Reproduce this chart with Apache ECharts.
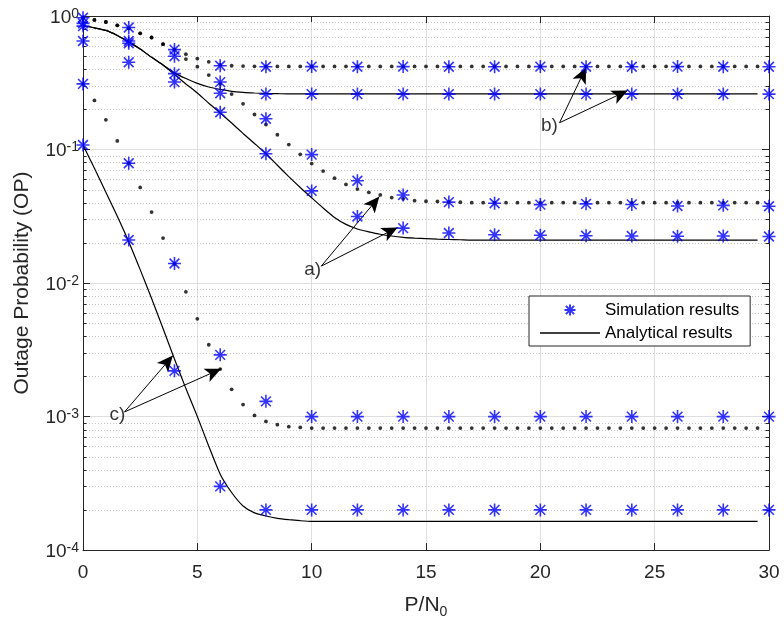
<!DOCTYPE html>
<html><head><meta charset="utf-8">
<script src="https://cdn.jsdelivr.net/npm/echarts@6/dist/echarts.min.js"></script>
<style>html,body{margin:0;padding:0;background:#fff}#c{width:784px;height:624px}</style>
</head><body><div id="c"></div>
<script>
// ---------- data ----------
const X_ANALYTIC = [0,0.5,1,1.5,2,2.5,3,3.5,4,4.5,5,5.5,6,6.5,7,7.5,8,8.5,9,9.5,
  10,10.5,11,11.5,12,12.5,13,13.5,14,14.5,15,15.5,16,16.5,17,17.5,18,18.5,19,19.5,
  20,20.5,21,21.5,22,22.5,23,23.5,24,24.5,25,25.5,26,26.5,27,27.5,28,28.5,29,29.5];

// b) dotted analytical
const bDot = [0.97,0.934,0.902,0.851,0.809,0.742,0.69,0.615,0.56,0.518,0.48,0.454,0.43,0.424,0.422,0.42,0.419,
  0.419,0.419,0.419,0.419,0.419,0.419,0.419,0.419,0.419,0.419,0.419,0.419,0.419,0.419,0.419,0.419,0.419,
  0.419,0.419,0.419,0.419,0.419,0.419,0.419,0.419,0.419,0.419,0.419,0.419,0.419,0.419,0.419,0.419,0.419,
  0.419,0.419,0.419,0.419,0.419,0.419,0.419,0.419,0.419];
// a) dotted analytical
const aDot = [0.97,0.934,0.902,0.851,0.809,0.742,0.69,0.615,0.56,0.476,0.417,0.361,0.31,0.26,0.22,0.183,0.154,
  0.129,0.109,0.092,0.0785,0.069,0.061,0.0548,0.0506,0.0478,0.0457,0.0437,0.0427,0.0414,0.041,0.0408,0.0405,0.0403,
  0.04,0.04,0.04,0.04,0.04,0.04,0.04,0.04,0.04,0.04,0.04,0.04,0.04,0.04,0.04,0.04,0.04,0.04,0.04,0.04,0.04,0.04,
  0.04,0.04,0.04,0.04];
// b) solid analytical
const bSol = [0.845,0.815,0.78,0.715,0.64,0.565,0.49,0.43,0.375,0.34,0.313,0.294,0.282,0.273,0.268,0.265,0.263,0.262,
  0.261,0.261,0.261,0.261,0.261,0.261,0.261,0.261,0.261,0.261,0.261,0.261,0.261,0.261,0.261,0.261,0.261,0.261,
  0.261,0.261,0.261,0.261,0.261,0.261,0.261,0.261,0.261,0.261,0.261,0.261,0.261,0.261,0.261,0.261,0.261,0.261,
  0.261,0.261,0.261,0.261,0.261,0.261];
// a) solid analytical
const aSol = [0.845,0.815,0.78,0.715,0.64,0.565,0.49,0.43,0.365,0.31,0.265,0.222,0.188,0.158,0.132,0.111,0.093,
  0.0762,0.0627,0.052,0.0435,0.0365,0.031,0.0275,0.0254,0.0242,0.0232,0.0225,0.022,0.0217,0.0215,0.0213,0.0212,0.0211,
  0.021,0.021,0.021,0.021,0.021,0.021,0.021,0.021,0.021,0.021,0.021,0.021,0.021,0.021,0.021,0.021,0.021,0.021,
  0.021,0.021,0.021,0.021,0.021,0.021,0.021,0.021];
// c) dotted analytical
const cDot = [0.31,0.233,0.167,0.116,0.079,0.052,0.034,0.0217,0.0139,0.0086,0.0054,0.00345,0.00227,0.0016,0.00123,
  0.00102,0.00092,0.00087,0.00084,0.00083,
  0.00082,0.00082,0.00082,0.00082,0.00082,0.00082,0.00082,0.00082,0.00082,0.00082,0.00082,0.00082,0.00082,0.00082,
  0.00082,0.00082,0.00082,0.00082,0.00082,0.00082,0.00082,0.00082,0.00082,0.00082,0.00082,0.00082,0.00082,0.00082,
  0.00082,0.00082,0.00082,0.00082,0.00082,0.00082,0.00082,0.00082,0.00082,0.00082,0.00082,0.00082];
// c) solid analytical
const cSol = [0.108,0.0724,0.0479,0.0316,0.0204,0.0126,0.00767,0.00457,0.0027,0.00162,0.001,0.0006,0.00037,0.00027,
  0.000214,0.00019,0.00018,0.000173,0.000169,0.000166,
  0.000164,0.000164,0.000164,0.000164,0.000164,0.000164,0.000164,0.000164,0.000164,0.000164,0.000164,0.000164,
  0.000164,0.000164,0.000164,0.000164,0.000164,0.000164,0.000164,0.000164,0.000164,0.000164,0.000164,0.000164,
  0.000164,0.000164,0.000164,0.000164,0.000164,0.000164,0.000164,0.000164,0.000164,0.000164,0.000164,0.000164,
  0.000164,0.000164,0.000164,0.000164];

// simulation points
const X_SIM = [0,2,4,6,8,10,12,14,16,18,20,22,24,26,28,30];
const simBDot = [0.97,0.82,0.56,0.424,0.417,0.418,0.417,0.418,0.417,0.417,0.418,0.417,0.417,0.418,0.417,0.417];
const simBSol = [0.88,0.625,0.37,0.264,0.26,0.26,0.26,0.26,0.26,0.26,0.26,0.26,0.26,0.26,0.26,0.26];
const simADot = [0.84,0.65,0.50,0.32,0.17,0.0916,0.0584,0.0457,0.0404,0.0396,0.0387,0.0392,0.0388,0.0378,0.0382,0.0376];
const simASol = [0.65,0.45,0.32,0.19,0.093,0.049,0.0315,0.0258,0.0237,0.023,0.0228,0.0226,0.0225,0.0224,0.0225,0.0223];
const simCDot = [0.31,0.079,0.014,0.0029,0.0013,0.001,0.001,0.001,0.001,0.001,0.001,0.001,0.001,0.001,0.001,0.001];
const simCSol = [0.108,0.021,0.0022,0.0003,0.0002,0.0002,0.0002,0.0002,0.0002,0.0002,0.0002,0.0002,0.0002,0.0002,0.0002,0.0002];

// axis ticks
const X_TICKS = [0,5,10,15,20,25,30];
const Y_MINOR = [2e-4,3e-4,4e-4,5e-4,6e-4,7e-4,8e-4,9e-4,
  2e-3,3e-3,4e-3,5e-3,6e-3,7e-3,8e-3,9e-3,
  0.02,0.03,0.04,0.05,0.06,0.07,0.08,0.09,
  0.2,0.3,0.4,0.5,0.6,0.7,0.8,0.9];

// annotations: [x1, y1, x2, y2]
const ARROWS = [
  [10.42,0.01339,12.96,0.0444],[10.42,0.01339,13.76,0.0261],
  [20.84,0.1587,22.0,0.412],[20.84,0.1587,23.82,0.2765],
  [1.815,0.001083,3.93,0.002862],[1.815,0.001083,6.04,0.002279]];
const LABELS = [['a)',10.04,0.0125],['b)',20.4,0.1498],['c)',1.51,0.001023]];

// ---------- chart ----------
const FONT = "'Liberation Sans', Arial, Helvetica, sans-serif";
const AX = '#262626';
const STAR = 'path://M0,-10L0,10M-10,0L10,0M-7.5,-7.5L7.5,7.5M-7.5,7.5L7.5,-7.5';
const LINE_ICON = 'path://M0,0L60,0L60,1.3L0,1.3Z';
const pairs = (xs, ys) => xs.map((x, i) => [x, ys[i]]);

const chart = echarts.init(document.getElementById('c'), null, {renderer: 'canvas'});

function analytic(name, ys) {
  return {type:'line', name:'Analytical results', data: pairs(X_ANALYTIC, ys), symbol:'none',
    smooth: 0.2, lineStyle:{color:'#000', width:1.2}, itemStyle:{color:'#000'}, z:3, silent:true};
}
function dotted(name, ys) {
  return {type:'scatter', name:name, data: pairs(X_ANALYTIC, ys), symbol:'circle', symbolSize:3.8,
    itemStyle:{color:'#000'}, z:4, silent:true};
}
function sim(ys) {
  return {type:'scatter', name:'Simulation results', data: pairs(X_SIM, ys), symbol: STAR, symbolSize:13,
    symbolKeepAspect:true, itemStyle:{color:'rgba(0,0,0,0)', borderColor:'#0000ff', borderWidth:1.6}, z:5, silent:true};
}

const option = {
  animation:false,
  backgroundColor:'#fff',
  grid:{left:83, top:13, width:686, height:538, containLabel:false},
  legend:{
    data:[{name:'Simulation results', icon: STAR},
          {name:'Analytical results', icon: LINE_ICON, itemStyle:{color:'#000', borderWidth:0}}],
    orient:'vertical', left:529, top:296, itemWidth:60, itemHeight:11, itemGap:3,
    padding:[4,11,3,11], selectedMode:false,
    textStyle:{fontSize:17, color:'#000', fontFamily:FONT, lineHeight:20},
    borderColor:AX, borderWidth:1, backgroundColor:'#fff'
  },
  xAxis:[
    {type:'value', min:0, max:30, interval:5, position:'bottom',
     axisLine:{show:true, onZero:false, lineStyle:{color:AX, width:1}},
     axisTick:{show:true, inside:true, length:7, lineStyle:{color:AX}},
     axisLabel:{color:AX, fontSize:19, fontFamily:FONT, margin:13},
     splitLine:{show:true, lineStyle:{color:'#dfdfdf', width:1}},
     name:'{a|P/N}{s|0}', nameLocation:'middle', nameGap:34,
     nameTextStyle:{color:AX, fontFamily:FONT, rich:{
       a:{fontSize:21, lineHeight:24, verticalAlign:'top', fontFamily:FONT, color:AX},
       s:{fontSize:14, lineHeight:14, padding:[18,0,0,0], verticalAlign:'bottom', fontFamily:FONT, color:AX}}}},
    {type:'value', min:0, max:30, interval:5, position:'top',
     axisLine:{show:true, onZero:false, lineStyle:{color:AX, width:1}},
     axisTick:{show:true, inside:true, length:7, lineStyle:{color:AX}},
     axisLabel:{show:false}, splitLine:{show:false}}
  ],
  yAxis:[
    {type:'log', logBase:10, min:1e-4, max:1, position:'left',
     axisLine:{show:true, onZero:false, lineStyle:{color:AX, width:1}},
     axisTick:{show:true, inside:true, length:7, lineStyle:{color:AX}},
     axisLabel:{margin:4, color:AX, fontFamily:FONT,
       formatter: v => '{b|10}{s|' + Math.round(Math.log10(v)) + '}',
       rich:{
         b:{fontSize:19, lineHeight:22, padding:[8,0,0,0], verticalAlign:'bottom', fontFamily:FONT, color:AX},
         s:{fontSize:14, lineHeight:16, padding:[2,0,0,0], verticalAlign:'top', fontFamily:FONT, color:AX}}},
     splitLine:{show:true, lineStyle:{color:'#dfdfdf', width:1}},
     minorTick:{show:false}, minorSplitLine:{show:false},
     name:'Outage Probability (OP)', nameLocation:'middle', nameGap:50,
     nameTextStyle:{fontSize:21, color:AX, fontFamily:FONT}},
    {type:'log', logBase:10, min:1e-4, max:1, position:'right',
     axisLine:{show:true, onZero:false, lineStyle:{color:AX, width:1}},
     axisTick:{show:true, inside:true, length:7, lineStyle:{color:AX}},
     axisLabel:{show:false}, splitLine:{show:false}}
  ],
  series:[
    {type:'custom', name:'minor', silent:true, z:1, clip:false,
     data: Y_MINOR.map(v => [0, v]), encode:{x:0, y:1},
     renderItem:(params, api) => {
       const v = api.value(1);
       const a = api.coord([0, v]);
       const b = api.coord([30, v]);
       const y = Math.round(a[1]) + 0.5;
       return {type:'group', children:[
         {type:'line', shape:{x1:a[0], y1:y, x2:b[0], y2:y}, style:{stroke:'#c4c4c4', lineWidth:1, lineDash:[1,2]}},
         {type:'line', shape:{x1:a[0], y1:y, x2:a[0]+3.5, y2:y}, style:{stroke:AX, lineWidth:1}},
         {type:'line', shape:{x1:b[0]-3.5, y1:y, x2:b[0], y2:y}, style:{stroke:AX, lineWidth:1}}
       ]};
     }},
    analytic('bSol', bSol), analytic('aSol', aSol), analytic('cSol', cSol),
    dotted('bDot', bDot), dotted('aDot', aDot), dotted('cDot', cDot),
    sim(simBDot), sim(simBSol), sim(simADot), sim(simASol), sim(simCDot), sim(simCSol),
    {type:'line', name:'arrows', data:[], silent:true, z:6,
     markLine:{silent:true, symbol:['none','arrow'], symbolSize:[11,16],
       lineStyle:{color:'#000', width:1, type:'solid'}, itemStyle:{color:'#000'},
       label:{show:false}, emphasis:{disabled:true},
       data: ARROWS.map(a => [{coord:[a[0], a[1]]}, {coord:[a[2], a[3]]}])}},
    {type:'scatter', name:'labels', silent:true, z:7, symbolSize:1,
     itemStyle:{color:'rgba(0,0,0,0)'},
     data: LABELS.map(l => [l[1], l[2], l[0]]),
     label:{show:true, position:'inside', formatter: p => p.data[2], fontSize:19, color:'#000', fontFamily:FONT}}
  ]
};
chart.setOption(option);
</script></body></html>
